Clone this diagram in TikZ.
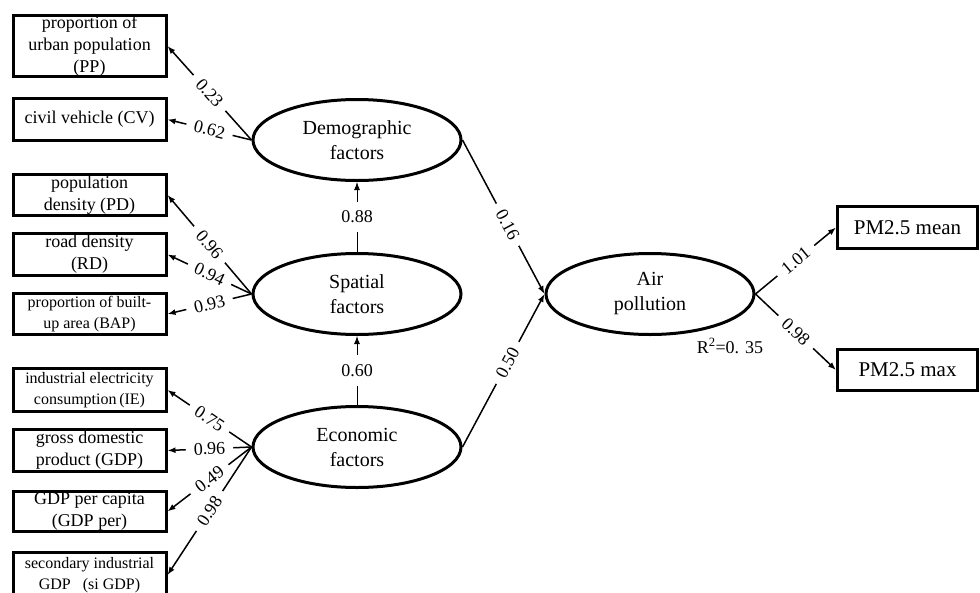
\documentclass[tikz,border=0pt]{standalone}
\usepackage{fontspec}
\setmainfont{Liberation Serif}
\usetikzlibrary{arrows.meta, shapes.geometric}

\begin{document}
\begin{tikzpicture}[x=1pt, y=-1pt, >={Latex[length=8pt,width=6pt]}]
	\tikzstyle{obs} = [draw=black, line width=3pt, rectangle, minimum width=153, inner sep=0pt, align=center, font=\fontsize{18}{22}\selectfont]
	\tikzstyle{obssmall} = [obs, font=\fontsize{16}{21}\selectfont]
	\tikzstyle{latent} = [draw=black, line width=3pt, ellipse, minimum width=208, minimum height=81, inner sep=0pt, align=center, font=\fontsize{20}{25}\selectfont]
	\tikzstyle{lbl} = [fill=white, sloped, inner xsep=8pt, inner ysep=1pt, font=\fontsize{18}{20}\selectfont]
	\tikzstyle{lblup} = [fill=white, inner xsep=2pt, inner ysep=9pt, font=\fontsize{18}{20}\selectfont]
	
	\useasboundingbox (0,0) rectangle (980,592);
	
	% observed variables, left
	\node[obs, minimum height=59] 	at (89.5, 46) 		(pp) 	{proportion of\\urban population\\(PP)};
	\node[obs, minimum height=42] 	at (89.5, 119.5) 	(cv) 	{civil vehicle (CV)};
	\node[obs, minimum height=41] 	at (89.5, 195) 		(pd) 	{population\\density (PD)};
	\node[obs, minimum height=42] 	at (89.5, 254.5) 	(rd) 	{road density\\(RD)};
	\node[obssmall, minimum height=41] 	at (89.5, 314) 	(bap) 	{proportion of built-\\up area (BAP)};
	\node[obssmall, minimum height=43] 	at (89.5, 390) 	(ie) 	{industrial electricity\\consumption\,(IE)};
	\node[obs, minimum height=42] 	at (89.5, 450.5) 	(gdp) 	{gross domestic\\product (GDP)};
	\node[obs, minimum height=40] 	at (89.5, 511.5) 	(gdpper) {GDP per capita\\(GDP per)};
	\node[obssmall, minimum height=46] 	at (89.5, 575) 	(sigdp) {secondary industrial\\GDP\enspace\ (si GDP)};
	
	% latent variables
	\node[latent] 	at (357, 140) 	(dem) 	{Demographic\\factors};
	\node[latent] 	at (357, 294) 	(spa) 	{Spatial\\factors};
	\node[latent] 	at (357, 447) 	(eco) 	{Economic\\factors};
	\node[latent] 	at (650, 294) 	(air) 	{Air\\pollution};
	
	% observed variables, right
	\node[obs, minimum width=140, minimum height=42, font=\fontsize{21}{24}\selectfont] 	at (907.5, 227.5) 	(pmmean) 	{PM2.5 mean};
	\node[obs, minimum width=140, minimum height=41, font=\fontsize{21}{24}\selectfont] 	at (907.5, 370) 	(pmmax) 	{PM2.5 max};
	
	\node[font=\fontsize{18}{20}\selectfont] 	at (730, 346) 	(rsq) 	{R\textsuperscript{2}=0. 35};
	
	\path[->, line width=1.5pt]
	(dem.west)	edge	node[lbl] {0.23}	(pp.east)
	(dem.west)	edge	node[lbl] {0.62}	(cv.east)
	(spa.west)	edge	node[lbl] {0.96}	(pd.east)
	(spa.west)	edge	node[lbl] {0.94}	(rd.east)
	(spa.west)	edge	node[lbl] {0.93}	(bap.east)
	(eco.west)	edge	node[lbl] {0.75}	(ie.east)
	(eco.west)	edge	node[lbl] {0.96}	(gdp.east)
	(eco.west)	edge	node[lbl] {0.49}	(gdpper.east)
	(eco.west)	edge	node[lbl] {0.98}	(sigdp.east)
	(dem.east)	edge	node[lbl, pos=0.55] {0.16}	(air.west)
	(eco.east)	edge	node[lbl, pos=0.55] {0.50}	(air.west)
	(air.east)	edge	node[lbl] {1.01}	(pmmean.west)
	(air.east)	edge	node[lbl] {0.98}	(pmmax.west);
	
	\path[->, line width=1pt]
	(spa.north)	edge	node[lblup] {0.88}	(dem.south)
	(eco.north)	edge	node[lblup] {0.60}	(spa.south);
\end{tikzpicture}
\end{document}
